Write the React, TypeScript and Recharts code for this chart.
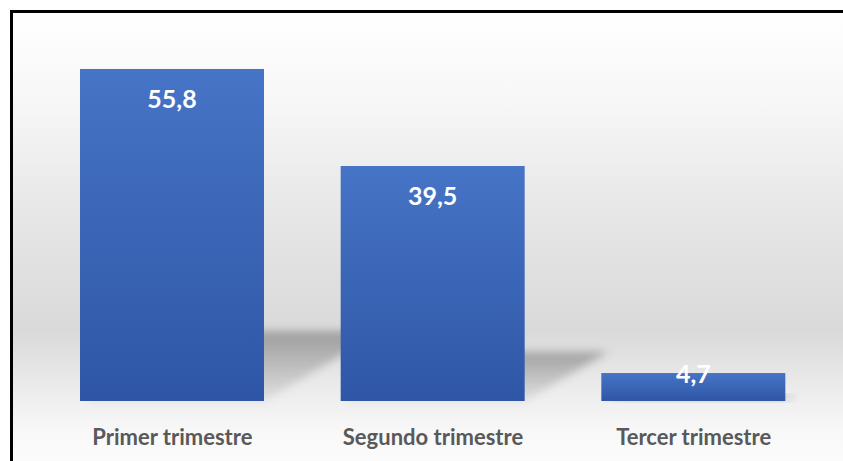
import React from 'react'
import { BarChart, Bar, XAxis, YAxis, LabelList } from 'recharts'

const categories = ['Primer trimestre', 'Segundo trimestre', 'Tercer trimestre']
const values = [55.8, 39.5, 4.7]

const data = categories.map((name, i) => ({ name, value: values[i] }))

const fmt = (v: number) => String(v).replace('.', ',')

// bar with the soft perspective shadow behind it
const ShadowBar = (props: any) => {
  const { x, y, width, height } = props
  if (!height || height <= 0) return null
  const bottom = y + height
  const sh = height * 0.21
  const sk = sh * 1.7
  const pts = [
    [x + 4, bottom],
    [x + width, bottom],
    [x + width + sk, bottom - sh],
    [x + 4 + sk, bottom - sh]
  ]
    .map((p) => p.join(','))
    .join(' ')
  return (
    <g>
      <polygon points={pts} fill="url(#shadowGrad)" filter="url(#shadowBlur)" />
      <rect x={x} y={y} width={width} height={height} fill="url(#barGrad)" />
    </g>
  )
}

const ValueLabel = (props: any) => {
  const { x, y, width, height, value } = props
  const cy = height > 60 ? y + 29 : y
  return (
    <text
      x={x + width / 2}
      y={cy}
      fill="#ffffff"
      textAnchor="middle"
      dominantBaseline="central"
      fontFamily="Lato, 'Open Sans', sans-serif"
      fontWeight={700}
      fontSize={25}
    >
      {fmt(value)}
    </text>
  )
}

const CategoryTick = (props: any) => {
  const { x, y, payload } = props
  return (
    <text
      x={x}
      y={y + 44}
      fill="#595959"
      textAnchor="middle"
      fontFamily="Lato, 'Open Sans', sans-serif"
      fontWeight={700}
      fontSize={22}
    >
      {payload.value}
    </text>
  )
}

export default function App(): React.JSX.Element {
  return (
    <div
      style={{
        position: 'absolute',
        left: 0,
        top: 0,
        width: 843,
        height: 461,
        overflow: 'hidden',
        background: '#ffffff'
      }}
    >
      <div
        style={{
          position: 'absolute',
          left: 10,
          top: 10,
          width: 900,
          height: 460,
          border: '3px solid #000',
          background:
            'linear-gradient(to bottom, #ffffff 0%, #f7f7f7 19%, #e9e9e9 40%, #d9d9d9 69%, #ececec 82%, #f8f8f8 91%, #fdfdfd 100%)'
        }}
      />
      <div style={{ position: 'absolute', left: 0, top: 0 }}>
        <BarChart
          width={843}
          height={461}
          data={data}
          margin={{ top: 44, right: 19, bottom: 0, left: 42 }}
          barSize={184}
        >
          <defs>
            <linearGradient id="barGrad" x1="0" y1="0" x2="0" y2="1">
              <stop offset="0%" stopColor="#4674c6" />
              <stop offset="100%" stopColor="#2f56a6" />
            </linearGradient>
            <linearGradient id="shadowGrad" x1="0" y1="0" x2="0" y2="1">
              <stop offset="0%" stopColor="#000" stopOpacity={0.28} />
              <stop offset="100%" stopColor="#000" stopOpacity={0.06} />
            </linearGradient>
            <filter id="shadowBlur" x="-30%" y="-30%" width="160%" height="160%">
              <feGaussianBlur stdDeviation="4" />
            </filter>
          </defs>
          <YAxis hide domain={[0, 60]} />
          <XAxis
            dataKey="name"
            height={60}
            axisLine={false}
            tickLine={false}
            tickSize={0}
            tickMargin={0}
            tick={<CategoryTick />}
            interval={0}
          />
          <Bar dataKey="value" shape={<ShadowBar />} isAnimationActive={false}>
            <LabelList dataKey="value" content={<ValueLabel />} />
          </Bar>
        </BarChart>
      </div>
    </div>
  )
}
